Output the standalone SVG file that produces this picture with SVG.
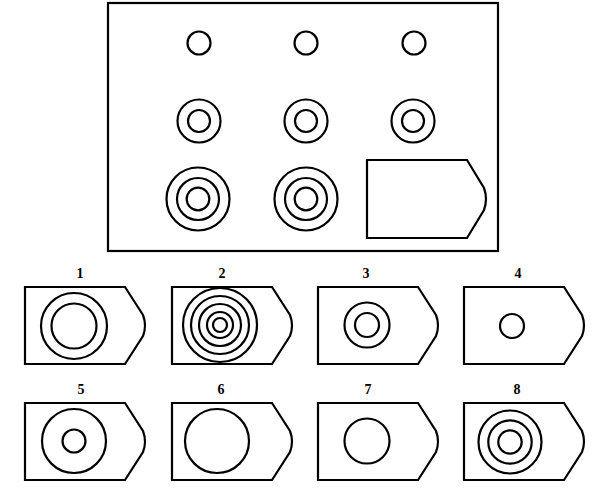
<svg xmlns="http://www.w3.org/2000/svg" xmlns:xlink="http://www.w3.org/1999/xlink" width="600" height="488" viewBox="0 0 600 488">
<style>
.s{fill:none;stroke:#000;stroke-width:2.2}
.lbl{font-family:"Liberation Serif",serif;font-weight:bold;font-size:14px;text-anchor:middle;fill:#000}
</style>
<defs>
<path id="tag" class="s" d="M0,0 H100 L118,28 Q122,38.5 118,49 L100,77 H0 Z"/>
</defs>
<rect width="600" height="488" fill="#fff"/>
<g id="matrix">
<rect class="s" x="108" y="3" width="390" height="248"/>
<circle class="s" cx="199" cy="43" r="11.5"/>
<circle class="s" cx="306" cy="43" r="11.5"/>
<circle class="s" cx="414" cy="43" r="11.5"/>
<circle class="s" cx="199" cy="121" r="21.5"/><circle class="s" cx="199" cy="121" r="11"/>
<circle class="s" cx="306" cy="121" r="21.5"/><circle class="s" cx="306" cy="121" r="11"/>
<circle class="s" cx="413" cy="121" r="21.5"/><circle class="s" cx="413" cy="121" r="11"/>
<circle class="s" cx="198" cy="199" r="31.5"/><circle class="s" cx="198" cy="199" r="21"/><circle class="s" cx="198" cy="199" r="11.3"/>
<circle class="s" cx="306" cy="199" r="31.5"/><circle class="s" cx="306" cy="199" r="21"/><circle class="s" cx="306" cy="199" r="11.3"/>
<path class="s" d="M367,160 H467 L484,188 Q488,199 484,210 L467,238 H367 Z"/>
</g>
<g id="opt1">
<text class="lbl" x="80" y="278">1</text>
<use xlink:href="#tag" x="25" y="287"/>
<circle class="s" cx="74" cy="326" r="33"/><circle class="s" cx="74" cy="326" r="22.5"/>
</g>
<g id="opt2">
<text class="lbl" x="222" y="278">2</text>
<use xlink:href="#tag" x="172" y="287"/>
<circle class="s" cx="220" cy="325" r="37"/><circle class="s" cx="220" cy="325" r="29"/><circle class="s" cx="220" cy="325" r="21"/><circle class="s" cx="220" cy="325" r="13"/><circle class="s" cx="220" cy="325" r="7"/>
</g>
<g id="opt3">
<text class="lbl" x="366" y="278">3</text>
<use xlink:href="#tag" x="318" y="287"/>
<circle class="s" cx="367" cy="325" r="22.5"/><circle class="s" cx="367" cy="325" r="12"/>
</g>
<g id="opt4">
<text class="lbl" x="518" y="278">4</text>
<use xlink:href="#tag" x="464" y="287"/>
<circle class="s" cx="512" cy="326" r="12"/>
</g>
<g id="opt5">
<text class="lbl" x="81" y="394">5</text>
<use xlink:href="#tag" x="25" y="403"/>
<circle class="s" cx="74" cy="441" r="32"/><circle class="s" cx="74" cy="441" r="11.5"/>
</g>
<g id="opt6">
<text class="lbl" x="221" y="394">6</text>
<use xlink:href="#tag" x="172" y="403"/>
<circle class="s" cx="217" cy="441" r="32"/>
</g>
<g id="opt7">
<text class="lbl" x="368" y="394">7</text>
<use xlink:href="#tag" x="318" y="403"/>
<circle class="s" cx="367" cy="441" r="22.5"/>
</g>
<g id="opt8">
<text class="lbl" x="517" y="394">8</text>
<use xlink:href="#tag" x="464" y="403"/>
<circle class="s" cx="510" cy="442" r="31.5"/><circle class="s" cx="510" cy="442" r="21.7"/><circle class="s" cx="510" cy="442" r="11.7"/>
</g>
</svg>
